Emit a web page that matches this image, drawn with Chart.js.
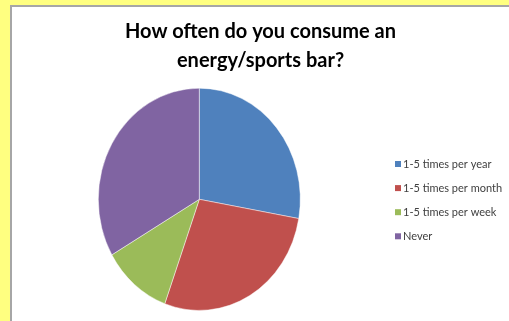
<!DOCTYPE html>
<html>
<head>
<meta charset="utf-8">
<script src="https://cdn.jsdelivr.net/npm/chart.js@4.4.1/dist/chart.umd.min.js"></script>
<style>
  html, body { margin: 0; padding: 0; }
  body { width: 509px; height: 321px; background: #FFFF80; overflow: hidden; position: relative; }
  #frame {
    position: absolute; left: 10px; top: 5px;
    width: 497px; height: 314px;
    background: #ffffff;
    border-left: 2px solid #a6a6a6;
    border-top: 2px solid #a6a6a6;
  }
  canvas { display: block; }
</style>
</head>
<body>
<div id="frame"><canvas id="c" width="497" height="314"></canvas></div>
<script>
// Survey answers: how often people eat an energy/sports bar
const categories = ['1-5 times per year', '1-5 times per month', '1-5 times per week', 'Never'];
const responses = [10, 10, 4, 12];
const sliceColors = ['#4F81BD', '#C0504D', '#9BBB59', '#8064A2'];
const titleLines = ['How often do you consume an', 'energy/sports bar?'];

// Stretch the pie vertically a little around its centre
const stretchPie = {
  id: 'stretchPie',
  beforeDatasetsDraw(chart) {
    const arc = chart.getDatasetMeta(0).data[0];
    const ctx = chart.ctx;
    ctx.save();
    ctx.translate(arc.x, arc.y);
    ctx.scale(1, 1.1);
    ctx.translate(-arc.x, -arc.y);
  },
  afterDatasetsDraw(chart) {
    chart.ctx.restore();
  }
};

// Legend as a layout box on the right: it narrows the plot area
// but leaves the full-width title centred on the whole canvas.
const sideLegend = {
  id: 'sideLegend',
  beforeInit(chart) {
    const box = {
      position: 'right',
      weight: 1000,
      fullSize: false,
      options: {},
      left: 0, top: 0, right: 0, bottom: 0, width: 0, height: 0,
      isHorizontal() { return false; },
      update(maxWidth, maxHeight) {
        this.width = 122.4;
        this.height = maxHeight;
        return { width: this.width, height: this.height };
      },
      draw() {
        const ctx = chart.ctx;
        const x0 = this.left + 8.4, y0 = 157, step = 24.1, size = 6;
        const colors = chart.data.datasets[0].backgroundColor;
        ctx.save();
        ctx.font = '11px Lato, "Liberation Sans", sans-serif';
        ctx.textBaseline = 'middle';
        ctx.textAlign = 'left';
        chart.data.labels.forEach((label, i) => {
          const y = y0 + i * step;
          ctx.fillStyle = colors[i];
          ctx.fillRect(x0, y - size / 2, size, size);
          ctx.fillStyle = '#404040';
          ctx.fillText(label, x0 + 8, y + 0.5);
        });
        ctx.restore();
      }
    };
    Chart.layouts.addBox(chart, box);
  }
};

new Chart(document.getElementById('c'), {
  type: 'pie',
  data: {
    labels: categories,
    datasets: [{
      data: responses,
      backgroundColor: sliceColors,
      borderColor: 'rgba(255,255,255,0.55)',
      borderWidth: 0.8,
      radius: 101
    }]
  },
  options: {
    responsive: false,
    animation: false,
    events: [],
    layout: { padding: { left: 0, right: 0, top: 0, bottom: 7.4 } },
    plugins: {
      legend: { display: false },
      tooltip: { enabled: false },
      title: {
        display: true,
        text: titleLines,
        color: '#000000',
        font: { family: 'Lato, "Liberation Sans", sans-serif', size: 20, weight: 'bold', lineHeight: 1.45 },
        padding: { top: 10, bottom: 10 }
      }
    }
  },
  plugins: [stretchPie, sideLegend]
});
</script>
</body>
</html>
